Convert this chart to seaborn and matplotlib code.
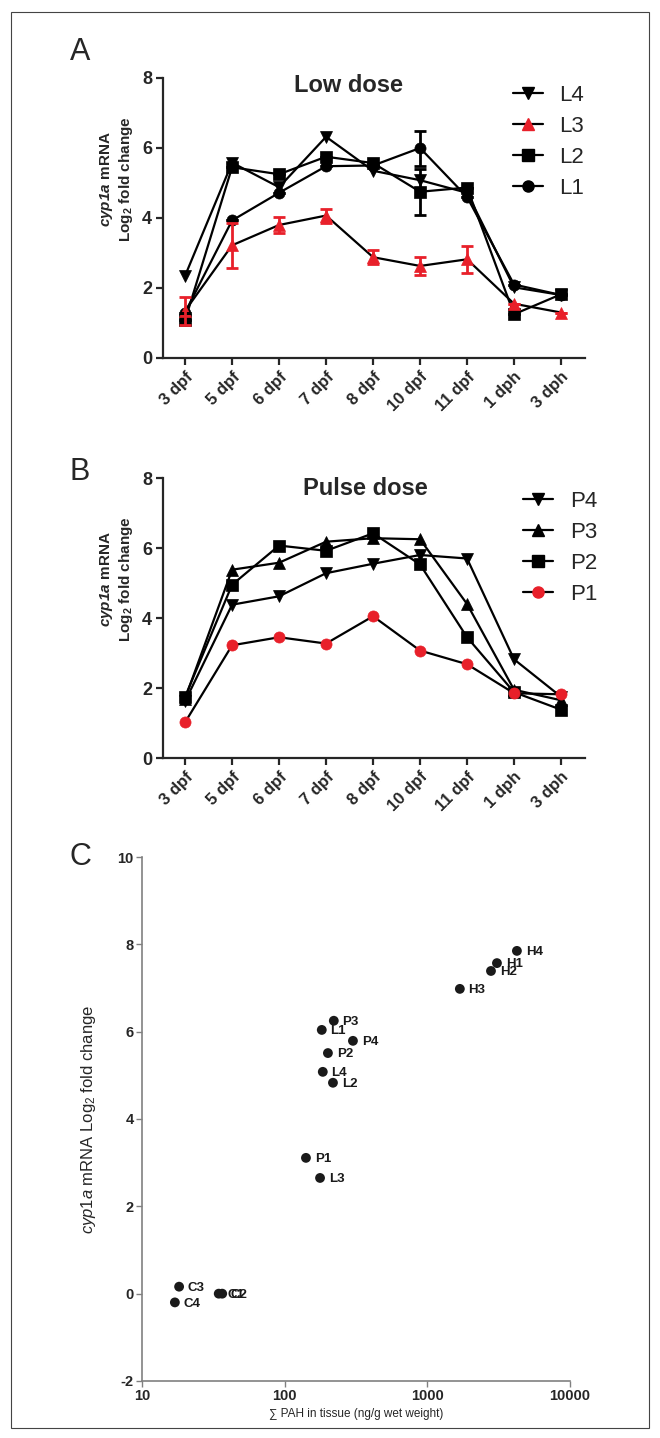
import numpy as np
import pandas as pd
import matplotlib
matplotlib.use('Agg')
import matplotlib.pyplot as plt
import seaborn as sns
from matplotlib.lines import Line2D
from matplotlib.patches import Rectangle

# ---------------- data ----------------
timepoints = ['3 dpf', '5 dpf', '6 dpf', '7 dpf', '8 dpf', '10 dpf', '11 dpf', '1 dph', '3 dph']

low_L4 = [2.35, 5.58, 4.88, 6.32, 5.35, 5.08, 4.72, 2.02, 1.80]
low_L3 = [1.35, 3.22, 3.80, 4.07, 2.88, 2.63, 2.82, 1.55, 1.30]
low_L3_err = [0.40, 0.65, 0.24, 0.20, 0.20, 0.25, 0.38, 0.0, 0.0]
low_L2 = [1.08, 5.45, 5.25, 5.75, 5.57, 4.75, 4.87, 1.25, 1.82]
low_L2_err = [0, 0, 0, 0, 0, 0.65, 0, 0, 0]
low_L1 = [1.30, 3.93, 4.72, 5.48, 5.50, 6.00, 4.60, 2.10, 1.80]
low_L1_err = [0, 0, 0, 0, 0, 0.50, 0, 0, 0]

pulse_P4 = [1.62, 4.38, 4.62, 5.28, 5.55, 5.80, 5.70, 2.82, 1.75]
pulse_P3 = [1.70, 5.38, 5.58, 6.18, 6.28, 6.25, 4.40, 1.95, 1.65]
pulse_P2 = [1.75, 4.95, 6.07, 5.92, 6.42, 5.53, 3.45, 1.88, 1.38]
pulse_P1 = [1.02, 3.22, 3.45, 3.27, 4.05, 3.07, 2.68, 1.85, 1.82]

pah_labels = ['H4', 'H1', 'H2', 'H3', 'P3', 'L1', 'P4', 'P2', 'L4', 'L2', 'P1', 'L3', 'C3', 'C4', 'C1', 'C2']
pah_tissue = [4245, 3076, 2793, 1690, 221, 182, 301, 201, 185, 218, 141, 177, 18.2, 17.0, 34.5, 36.5]
pah_fold = [7.85, 7.57, 7.39, 6.98, 6.25, 6.04, 5.79, 5.51, 5.08, 4.83, 3.11, 2.65, 0.16, -0.20, 0.00, 0.00]

# ---------------- style ----------------
sns.set_style('ticks')
plt.rcParams['font.family'] = ['Liberation Sans', 'DejaVu Sans']
plt.rcParams['axes.unicode_minus'] = False
plt.rcParams['mathtext.fontset'] = 'custom'
plt.rcParams['mathtext.rm'] = 'Liberation Sans'
plt.rcParams['mathtext.it'] = 'Liberation Sans:italic'
plt.rcParams['mathtext.bf'] = 'Liberation Sans:bold'
plt.rcParams['mathtext.sf'] = 'Liberation Sans:italic:bold'

RED = '#e8202a'
W, H = 660, 1438
fig = plt.figure(figsize=(W / 100, H / 100), dpi=100)


def ax_rect(left, top, right, bottom):
    return [left / W, 1 - bottom / H, (right - left) / W, (bottom - top) / H]


axA = fig.add_axes(ax_rect(163, 78, 585, 358))
axB = fig.add_axes(ax_rect(163, 478, 585, 758))
axC = fig.add_axes(ax_rect(142, 857, 570, 1381))

idx = np.arange(len(timepoints))
LW = 1.6
MS = 8


def draw_series(ax, vals, marker, face):
    sns.lineplot(x=idx, y=vals, ax=ax, color='black', lw=LW, marker=marker, ms=MS,
                 mfc=face, mec=face, mew=0.5, errorbar=None, legend=False)


def style_time_axis(ax):
    ax.set_xlim(-0.47, 8.51)
    ax.set_ylim(0, 8)
    ax.set_yticks([0, 2, 4, 6, 8])
    ax.set_xticks(idx)
    ax.set_xticklabels(timepoints, rotation=45, ha='right', rotation_mode='anchor')
    for s in ['top', 'right']:
        ax.spines[s].set_visible(False)
    for s in ['left', 'bottom']:
        ax.spines[s].set_linewidth(LW)
    ax.tick_params(direction='out', length=5, width=LW, labelsize=13, pad=3)
    ax.tick_params(axis='x', labelsize=12)
    for t in ax.get_xticklabels() + ax.get_yticklabels():
        t.set_fontweight('bold')
    ax.set_xlabel('')
    ax.set_ylabel('')
    ax.text(-0.11, 0.64, '$\\mathsf{cyp1a}$ mRNA\nLog$_\\mathbf{2}$ fold change', transform=ax.transAxes,
            rotation=90, ha='center', va='center', multialignment='center',
            fontsize=11, fontweight='bold', linespacing=1.1)


# ---------------- panel A ----------------
draw_series(axA, low_L1, 'o', 'black')
draw_series(axA, low_L2, 's', 'black')
draw_series(axA, low_L4, 'v', 'black')
draw_series(axA, low_L3, '^', RED)
axA.errorbar(idx, low_L1, yerr=low_L1_err, fmt='none', ecolor='black', elinewidth=2, capsize=4, capthick=2)
axA.errorbar(idx, low_L2, yerr=low_L2_err, fmt='none', ecolor='black', elinewidth=2, capsize=4, capthick=2)
axA.errorbar(idx, low_L3, yerr=low_L3_err, fmt='none', ecolor=RED, elinewidth=2, capsize=4, capthick=2)
style_time_axis(axA)
axA.text(0.44, 0.975, 'Low dose', transform=axA.transAxes, ha='center', va='center',
         fontsize=17, fontweight='bold')

handlesA = [Line2D([0], [0], color='black', lw=LW, marker='v', ms=MS, mfc='black', mec='black'),
            Line2D([0], [0], color='black', lw=LW, marker='^', ms=MS, mfc=RED, mec=RED),
            Line2D([0], [0], color='black', lw=LW, marker='s', ms=MS, mfc='black', mec='black'),
            Line2D([0], [0], color='black', lw=LW, marker='o', ms=MS, mfc='black', mec='black')]
axA.legend(handlesA, ['L4', 'L3', 'L2', 'L1'], loc='upper left', bbox_to_anchor=(0.829, 0.975),
           frameon=False, fontsize=16, handlelength=1.35, handletextpad=0.75,
           labelspacing=0.45, borderpad=0, borderaxespad=0)

# ---------------- panel B ----------------
draw_series(axB, pulse_P4, 'v', 'black')
draw_series(axB, pulse_P3, '^', 'black')
draw_series(axB, pulse_P2, 's', 'black')
draw_series(axB, pulse_P1, 'o', RED)
style_time_axis(axB)
axB.text(0.479, 0.964, 'Pulse dose', transform=axB.transAxes, ha='center', va='center',
         fontsize=17, fontweight='bold')
handlesB = [Line2D([0], [0], color='black', lw=LW, marker='v', ms=MS, mfc='black', mec='black'),
            Line2D([0], [0], color='black', lw=LW, marker='^', ms=MS, mfc='black', mec='black'),
            Line2D([0], [0], color='black', lw=LW, marker='s', ms=MS, mfc='black', mec='black'),
            Line2D([0], [0], color='black', lw=LW, marker='o', ms=MS, mfc=RED, mec=RED)]
axB.legend(handlesB, ['P4', 'P3', 'P2', 'P1'], loc='upper left', bbox_to_anchor=(0.853, 0.955),
           frameon=False, fontsize=16, handlelength=1.35, handletextpad=0.75,
           labelspacing=0.45, borderpad=0, borderaxespad=0)

# ---------------- panel C ----------------
dfC = pd.DataFrame({'label': pah_labels, 'tissue': pah_tissue, 'fold': pah_fold})
sns.scatterplot(data=dfC, x='tissue', y='fold', ax=axC, color='#1a1a1a', s=50, edgecolor='none', zorder=3)
axC.set_xscale('log')
axC.set_xlim(10, 10000)
axC.set_ylim(-2, 10)
axC.set_yticks([-2, 0, 2, 4, 6, 8, 10])
axC.set_xticks([10, 100, 1000, 10000])
axC.set_xticklabels(['10', '100', '1000', '10000'])
axC.minorticks_off()
for s in ['top', 'right']:
    axC.spines[s].set_visible(False)
for s in ['left', 'bottom']:
    axC.spines[s].set_linewidth(1.2)
    axC.spines[s].set_color('#808080')
axC.tick_params(direction='out', length=4, width=1.0, color='#808080', labelsize=10.5, pad=2)
for t in axC.get_yticklabels():
    t.set_fontweight('bold')
for t in axC.get_xticklabels():
    t.set_fontweight('bold')
for lab, xv, yv in zip(pah_labels, pah_tissue, pah_fold):
    axC.annotate(lab, (xv, yv), xytext=(6.3, -0.8), textcoords='offset points',
                 ha='left', va='center', fontsize=9.5, fontweight='bold', color='#1a1a1a')
axC.set_xlabel('\u2211 PAH in tissue (ng/g wet weight)', fontsize=8.5, labelpad=3)
axC.set_ylabel('$\\mathit{cyp1a}$ mRNA Log$_2$ fold change', fontsize=12, labelpad=14)

# ---------------- panel letters and border ----------------
fig.text(80 / W, 1 - 52 / H, 'A', fontsize=22, ha='center', va='center')
fig.text(80 / W, 1 - 472 / H, 'B', fontsize=22, ha='center', va='center')
fig.text(80 / W, 1 - 857 / H, 'C', fontsize=22, ha='center', va='center')
fig.patches.append(Rectangle((11 / W, 1 - 1428 / H), (649 - 11) / W, (1428 - 12) / H,
                             transform=fig.transFigure, fill=False, ec='#444444', lw=0.8))

fig.savefig('out.png', dpi=100)
